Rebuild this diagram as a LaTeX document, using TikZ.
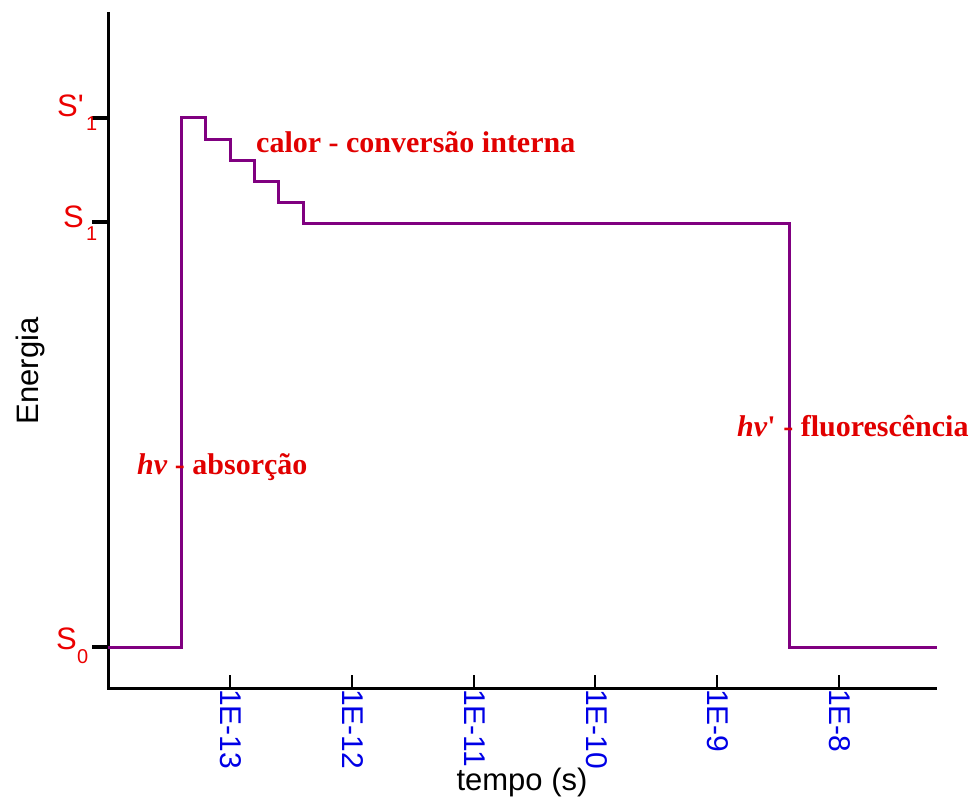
\documentclass[tikz,border=0pt]{standalone}
\usepackage{fontspec}
\setmainfont{Liberation Serif}
\newfontfamily\arialf{Liberation Sans}
\definecolor{curvepurple}{RGB}{128,0,128}
\definecolor{labred}{RGB}{235,0,0}
\definecolor{txtred}{RGB}{225,0,0}
\definecolor{tickblue}{RGB}{0,0,230}
\tikzset{
  axisline/.style={line width=3pt, black},
  ytick/.style={line width=4pt, black},
  xtick/.style={line width=2pt, black},
  curve/.style={line width=3pt, curvepurple, line join=miter},
  slabel/.style={inner sep=0pt, anchor=base west, text=labred, font=\arialf\fontsize{31}{31}\selectfont},
  ssub/.style={inner sep=0pt, anchor=base west, text=labred, font=\arialf\fontsize{20}{20}\selectfont},
  xlab/.style={inner sep=0pt, anchor=west, rotate=-90, text=tickblue, font=\arialf\fontsize{30}{30}\selectfont},
  annot/.style={inner sep=0pt, anchor=base west, text=txtred, font=\bfseries\fontsize{30}{30}\selectfont},
  axtitle/.style={inner sep=0pt, text=black, font=\arialf\fontsize{31}{31}\selectfont}
}
\begin{document}
\begin{tikzpicture}[x=1pt, y=-1pt]
\useasboundingbox (0,0) rectangle (972,799);
% axes
\coordinate (ytop) at (108,12);
\coordinate (orig) at (108,688);
\coordinate (xend) at (937,688);
\draw[axisline] (ytop) -- (orig) -- (xend);
% y ticks
\draw[ytick] (92,118) -- (108,118);
\draw[ytick] (92,222) -- (108,222);
\draw[ytick] (92,647) -- (108,647);
% y labels
\node[slabel] (sp) at (57,117) {S\textquotesingle};
\node[ssub] (sp1) at (86,131) {1};
\node[slabel] (s1) at (63,228) {S};
\node[ssub] (s11) at (86,241) {1};
\node[slabel] (s0) at (56,649) {S};
\node[ssub] (s00) at (77,663) {0};
% x ticks and labels
\foreach \xx/\lab [count=\i] in {230/1E-13, 352/1E-12, 473.6/1E-11, 595.4/1E-10, 717/1E-9, 839/1E-8}{
  \draw[xtick] (\xx,675) -- (\xx,688);
  \node[xlab] (xl\i) at (\xx+1,689) {\lab};
}
% curve
\draw[curve] (108,647) -- (181,647) -- (181,118) -- (205,118) -- (205,140) -- (230,140)
  -- (230,161) -- (254,161) -- (254,182) -- (278,182) -- (278,203) -- (303,203)
  -- (303,224) -- (789,224) -- (789,647) -- (937,647);
% annotations
\node[annot] (calor) at (256,153) {calor - conversão interna};
\node[annot] (abs) at (137,475) {\textit{h}\textit{ν} - absorção};
\node[annot] (fluo) at (737,436) {\textit{h}\textit{ν}\textquotesingle{} - fluorescência};
% axis titles
\node[axtitle] (tempo) at (522,782) {tempo (s)};
\node[axtitle, rotate=90] (energia) at (30,371) {Energia};
\end{tikzpicture}
\end{document}
